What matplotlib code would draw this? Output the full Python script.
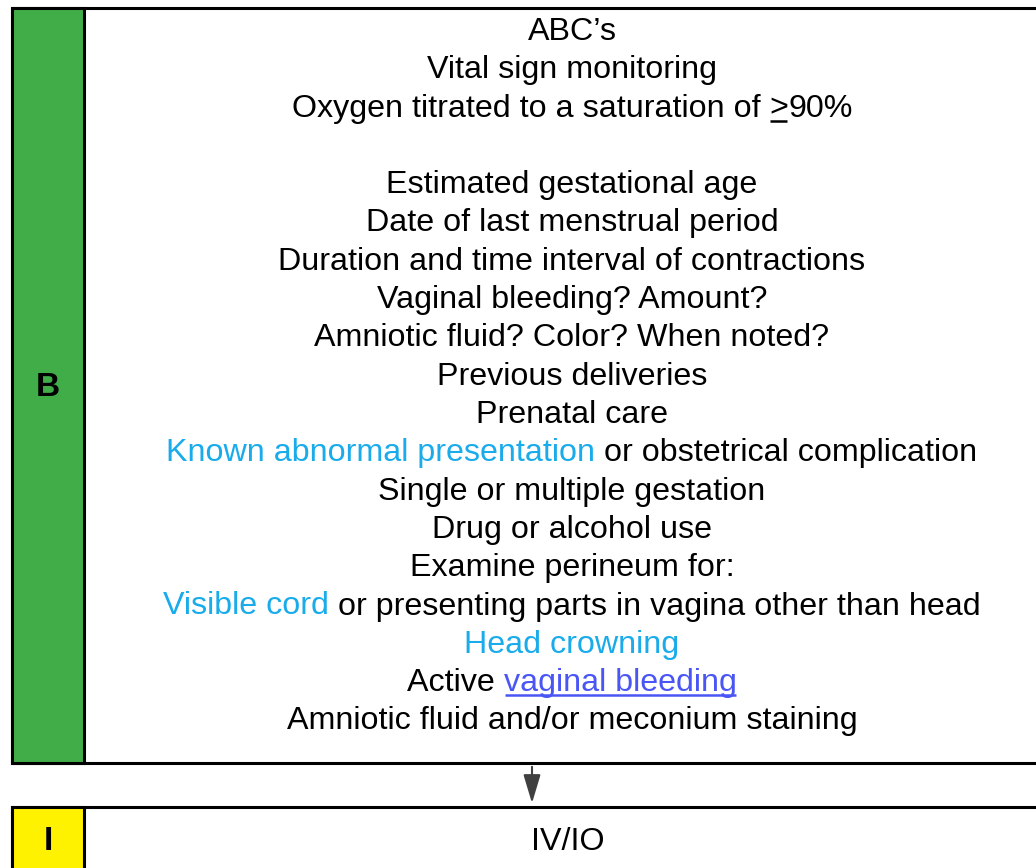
import matplotlib
matplotlib.use("Agg")
import matplotlib.pyplot as plt
from matplotlib.patches import Rectangle, FancyArrowPatch

# chart content
b_label = "B"
i_label = "I"
i_text = "IV/IO"
BLACK = "#000000"
CYAN = "#1aabeb"
LINK = "#4a55f5"
# each line: list of (text, colour, underlined)
b_lines = [
    [("ABC\u2019s", BLACK, False)],
    [("Vital sign monitoring", BLACK, False)],
    [("Oxygen titrated to a saturation of ", BLACK, False), (">", BLACK, True), ("90%", BLACK, False)],
    [],
    [("Estimated gestational age", BLACK, False)],
    [("Date of last menstrual period", BLACK, False)],
    [("Duration and time interval of contractions", BLACK, False)],
    [("Vaginal bleeding? Amount?", BLACK, False)],
    [("Amniotic fluid? Color? When noted?", BLACK, False)],
    [("Previous deliveries", BLACK, False)],
    [("Prenatal care", BLACK, False)],
    [("Known abnormal presentation", CYAN, False), (" or obstetrical complication", BLACK, False)],
    [("Single or multiple gestation", BLACK, False)],
    [("Drug or alcohol use", BLACK, False)],
    [("Examine perineum for:", BLACK, False)],
    [("Visible cord", CYAN, False), (" or presenting parts in vagina other than head", BLACK, False)],
    [("Head crowning", CYAN, False)],
    [("Active ", BLACK, False), ("vaginal bleeding", LINK, True)],
    [("Amniotic fluid and/or meconium staining", BLACK, False)],
]

W, H = 1036, 868
fig = plt.figure(figsize=(W / 100, H / 100), dpi=100)
ax = fig.add_axes([0, 0, 1, 1])
ax.set_xlim(0, W)
ax.set_ylim(H, 0)
ax.axis("off")

FONT = "Liberation Sans"
FS = 23.2

# top box
ax.add_patch(Rectangle((12, 8), 1060, 755, fc="white", ec="black", lw=2.2))
ax.add_patch(Rectangle((12, 8), 72, 755, fc="#41ad49", ec="black", lw=2.2))
ax.text(48, 387, b_label, ha="center", va="center", fontsize=24, fontweight="bold",
        family=FONT)

# bottom box
ax.add_patch(Rectangle((12, 807), 1060, 100, fc="white", ec="black", lw=2.2))
ax.add_patch(Rectangle((12, 807), 72, 100, fc="#fff200", ec="black", lw=2.2))
ax.text(48, 842, i_label, ha="center", va="center", fontsize=24, fontweight="bold",
        family=FONT)
ax.text(568, 842, i_text, ha="center", va="center", fontsize=FS, family=FONT)

# arrow
ax.add_patch(FancyArrowPatch((532, 764), (532, 806), arrowstyle="-|>,head_length=11,head_width=3.3",
                             color="#404040", lw=1.5, mutation_scale=1.6))

# text lines, centred on the content area
fig.canvas.draw()
renderer = fig.canvas.get_renderer()
cx = 572
base0 = 40
step = 38.3
for k, segs in enumerate(b_lines):
    if not segs:
        continue
    y = base0 + step * k
    widths = []
    for s, c, u in segs:
        t = ax.text(0, 0, s, fontsize=FS, family=FONT)
        bb = t.get_window_extent(renderer)
        widths.append(bb.width)
        t.remove()
    x = cx - sum(widths) / 2
    for (s, c, u), w in zip(segs, widths):
        ax.text(x, y, s, fontsize=FS, family=FONT, color=c, ha="left", va="baseline")
        if u:
            ax.plot([x + 1, x + w - 1], [y + 4, y + 4], color=c, lw=1.8, solid_capstyle="butt")
        x += w

fig.savefig("out.png", dpi=100)
